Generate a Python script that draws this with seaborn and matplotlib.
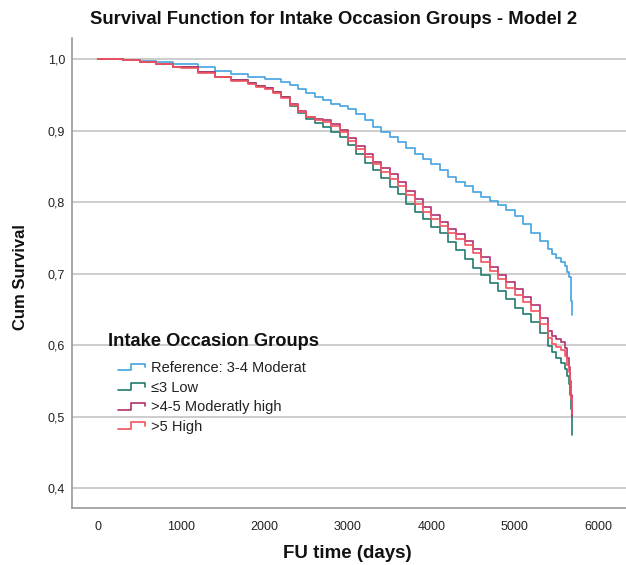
import numpy as np
import pandas as pd
import matplotlib
matplotlib.use("Agg")
import matplotlib.pyplot as plt
import seaborn as sns
from matplotlib.legend_handler import HandlerBase
from matplotlib.lines import Line2D

# ---------------- data ----------------
t_ref = [0, 300, 500, 700, 900, 1000, 1200, 1400, 1600, 1800, 2000, 2200, 2300, 2400, 2500,
         2600, 2700, 2800, 2900, 3000, 3100, 3200, 3300, 3400, 3500, 3600, 3700, 3800, 3900,
         4000, 4100, 4200, 4300, 4400, 4500, 4600, 4700, 4800, 4900, 5000, 5100, 5200, 5300,
         5400, 5450, 5500, 5550, 5600, 5630, 5650, 5670, 5680, 5690]
s_ref = [1.0, 0.999, 0.998, 0.996, 0.994, 0.993, 0.989, 0.984, 0.980, 0.976, 0.973, 0.969,
         0.964, 0.958, 0.953, 0.947, 0.943, 0.938, 0.935, 0.930, 0.923, 0.915, 0.906, 0.898,
         0.891, 0.884, 0.876, 0.868, 0.861, 0.854, 0.845, 0.836, 0.829, 0.823, 0.815, 0.808,
         0.802, 0.796, 0.789, 0.781, 0.769, 0.757, 0.746, 0.735, 0.727, 0.722, 0.717, 0.711,
         0.703, 0.695, 0.678, 0.662, 0.642]

t_grp = [0, 300, 500, 700, 900, 1000, 1200, 1400, 1600, 1800, 1900, 2000, 2100, 2200, 2300,
         2400, 2500, 2600, 2700, 2800, 2900, 3000, 3100, 3200, 3300, 3400, 3500, 3600, 3700,
         3800, 3900, 4000, 4100, 4200, 4300, 4400, 4500, 4600, 4700, 4800, 4900, 5000, 5100,
         5200, 5300, 5400, 5450, 5500, 5550, 5600, 5630, 5650, 5665, 5680, 5690]
s_low = [1.0, 0.999, 0.997, 0.994, 0.990, 0.989, 0.982, 0.976, 0.971, 0.967, 0.963, 0.960,
         0.954, 0.947, 0.935, 0.925, 0.916, 0.911, 0.905, 0.899, 0.892, 0.880, 0.867, 0.855,
         0.845, 0.834, 0.822, 0.811, 0.798, 0.786, 0.776, 0.766, 0.757, 0.745, 0.733, 0.720,
         0.708, 0.698, 0.687, 0.676, 0.664, 0.652, 0.643, 0.633, 0.617, 0.599, 0.590, 0.582,
         0.575, 0.566, 0.557, 0.545, 0.530, 0.510, 0.474]
s_mod_high = [1.0, 0.999, 0.997, 0.994, 0.990, 0.989, 0.982, 0.976, 0.971, 0.967, 0.963, 0.960,
              0.954, 0.947, 0.937, 0.928, 0.920, 0.916, 0.915, 0.910, 0.901, 0.890, 0.879, 0.867,
              0.857, 0.848, 0.839, 0.829, 0.816, 0.804, 0.793, 0.782, 0.773, 0.763, 0.755, 0.746,
              0.734, 0.723, 0.710, 0.698, 0.688, 0.678, 0.668, 0.656, 0.638, 0.620, 0.613, 0.608,
              0.605, 0.596, 0.582, 0.570, 0.550, 0.530, 0.501]
s_high = [1.0, 0.999, 0.997, 0.994, 0.990, 0.988, 0.981, 0.975, 0.970, 0.966, 0.962, 0.959,
          0.953, 0.946, 0.936, 0.927, 0.919, 0.915, 0.913, 0.907, 0.898, 0.886, 0.875, 0.863,
          0.853, 0.843, 0.833, 0.823, 0.810, 0.798, 0.787, 0.776, 0.767, 0.757, 0.749, 0.740,
          0.729, 0.717, 0.704, 0.692, 0.680, 0.670, 0.660, 0.648, 0.629, 0.610, 0.602, 0.597,
          0.593, 0.585, 0.572, 0.562, 0.545, 0.525, 0.503]

groups = ["Reference: 3-4 Moderat", "\u22643 Low", ">4-5 Moderatly high", ">5 High"]
colors = ["#44a3e0", "#227a6e", "#b3306c", "#f2545f"]
y_ticks = [0.4, 0.5, 0.6, 0.7, 0.8, 0.9, 1.0]
x_ticks = [0, 1000, 2000, 3000, 4000, 5000, 6000]

frames = [
    pd.DataFrame({"time": t_ref, "surv": s_ref, "group": groups[0]}),
    pd.DataFrame({"time": t_grp, "surv": s_low, "group": groups[1]}),
    pd.DataFrame({"time": t_grp, "surv": s_mod_high, "group": groups[2]}),
    pd.DataFrame({"time": t_grp, "surv": s_high, "group": groups[3]}),
]
df = pd.concat(frames, ignore_index=True)

# ---------------- plot ----------------
sns.set_style("white")
plt.rcParams["font.family"] = ["Liberation Sans", "DejaVu Sans"]

fig = plt.figure(figsize=(6.26, 5.65), dpi=100)
ax = fig.add_axes([72 / 626, 57 / 565, 1 - 72 / 626, (508 - 38) / 565])

palette = dict(zip(groups, colors))
sns.lineplot(data=df, x="time", y="surv", hue="group", hue_order=groups, palette=palette,
             estimator=None, sort=True, drawstyle="steps-post", linewidth=1.2,
             legend=False, ax=ax)

ax.set_xlim(-312, 6336)
ax.set_ylim(0.372, 1.03)
ax.set_xticks(x_ticks)
ax.set_xticklabels([str(v) for v in x_ticks])
ax.set_yticks(y_ticks)
ax.set_yticklabels([f"{v:.1f}".replace(".", ",") for v in y_ticks])
ax.tick_params(axis="both", length=0, labelsize=9, colors="#222222")
ax.tick_params(axis="y", pad=5)
ax.tick_params(axis="x", pad=9)
ax.yaxis.grid(True, color="#c8c8c8", linewidth=1.3)
ax.xaxis.grid(False)
ax.set_axisbelow(True)
for side in ["top", "right"]:
    ax.spines[side].set_visible(False)
for side in ["left", "bottom"]:
    ax.spines[side].set_color("#9a9a9a")
    ax.spines[side].set_linewidth(1.2)
ax.set_xlabel("")
ax.set_ylabel("")

fig.text(334 / 626, 1 - 20 / 565, "Survival Function for Intake Occasion Groups - Model 2",
         ha="center", va="center", fontsize=13.3, fontweight="bold", color="#111111")
fig.text(21 / 626, 1 - 277 / 565, "Cum Survival", rotation=90, ha="center", va="center",
         fontsize=12, fontweight="bold", color="#111111")
fig.text(347 / 626, 1 - 553 / 565, "FU time (days)", ha="center", va="center",
         fontsize=13.5, fontweight="bold", color="#111111")


class StepHandler(HandlerBase):
    def create_artists(self, legend, orig_handle, xdescent, ydescent, width, height,
                       fontsize, trans):
        x0 = -xdescent
        x1 = x0 + width
        xm = x0 + width * 0.5
        yl = -ydescent + height * 0.15
        yh = -ydescent + height * 0.8
        ye = -ydescent + height * 0.45
        ln = Line2D([x0, xm, xm, x1, x1], [yl, yl, yh, yh, ye],
                    color=orig_handle.get_color(), linewidth=1.2, transform=trans)
        return [ln]


fig.text(108 / 626, 1 - 341 / 565, "Intake Occasion Groups", ha="left", va="center",
         fontsize=13.2, fontweight="bold", color="#111111")

handles = [Line2D([], [], color=c) for c in colors]
leg = ax.legend(handles, groups, loc="upper left",
                bbox_to_anchor=(118 / 626, 1 - 361 / 565), bbox_transform=fig.transFigure,
                frameon=False, fontsize=10.5, handlelength=1.85, handletextpad=0.41,
                labelspacing=0.38, borderaxespad=0, borderpad=0,
                handler_map={Line2D: StepHandler()})
for t in leg.get_texts():
    t.set_color("#222222")

fig.savefig("out.png", dpi=100)
